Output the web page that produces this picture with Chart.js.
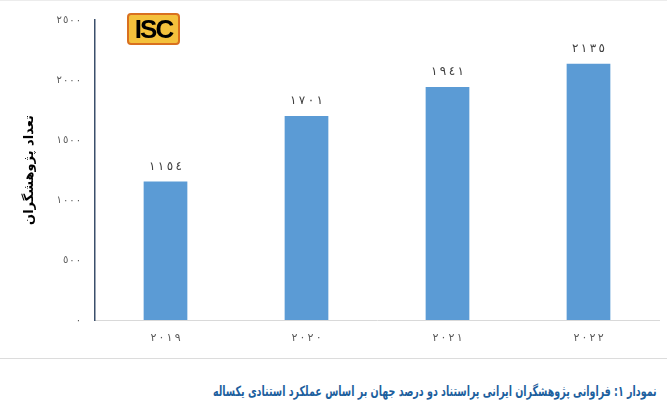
<!DOCTYPE html>
<html>
<head>
<meta charset="utf-8">
<script src="https://cdn.jsdelivr.net/npm/chart.js@4"></script>
<style>
  html, body { margin: 0; padding: 0; background: #fff; }
  body { width: 667px; height: 405px; position: relative; overflow: hidden; font-family: "DejaVu Sans", sans-serif; }
  #wrap { position: absolute; left: 0; top: 0; width: 667px; height: 350px; }
  .topline { position: absolute; left: 0; top: 0; width: 667px; height: 1px; background: #ececec; }
  .sep { position: absolute; left: 0; top: 358px; width: 667px; height: 1px; background: #dcdcdc; }
  .logo { position: absolute; left: 127px; top: 13px; width: 53px; height: 32px; background: #f4c13c; border: 2px solid #d9701f; border-radius: 4px; box-sizing: border-box;
          font: bold 26px "Liberation Sans", Arial, sans-serif; letter-spacing: -2px; color: #000; text-align: center; line-height: 29px; }
  .caption { position: absolute; right: 10px; top: 383px; direction: rtl; color: #1d5f9e; font: bold 14px "DejaVu Sans Condensed", "DejaVu Sans", sans-serif; white-space: nowrap; transform-origin: right center; }
</style>
</head>
<body>
<div class="topline"></div>
<div id="wrap"><canvas id="chart"></canvas></div>
<div class="logo">ISC</div>
<div class="sep"></div>
<div class="caption" id="caption">نمودار ۱: فراوانی پژوهشگران ایرانی پراستناد دو درصد جهان بر اساس عملکرد استنادی یکساله</div>
<script>
const years = ['2019', '2020', '2021', '2022'];
const researchers = [1154, 1701, 1941, 2135];
const yTicks = [0, 500, 1000, 1500, 2000, 2500];
const yTitle = 'تعداد پژوهشگران';

// Arabic-Indic digits, forced left-to-right, with a little spacing between them
function toArabicDigits(v, gap) {
    const s = String(v).replace(/[0-9]/g, d => '٠١٢٣٤٥٦٧٨٩'[d]);
    return '\u202D' + s.split('').join(gap) + '\u202C';
}

const cap = document.getElementById('caption');
cap.style.transform = 'scaleX(' + (444 / cap.offsetWidth) + ')';

const valueLabels = {
    id: 'valueLabels',
    afterDatasetsDraw(chart) {
        const ctx = chart.ctx;
        const meta = chart.getDatasetMeta(0);
        ctx.save();
        ctx.font = '12px "DejaVu Sans"';
        ctx.fillStyle = '#404040';
        ctx.textAlign = 'center';
        ctx.textBaseline = 'bottom';
        meta.data.forEach((bar, i) => {
            ctx.fillText(toArabicDigits(researchers[i], '\u2009'), bar.x, bar.y - 9);
        });
        ctx.restore();
    }
};

new Chart(document.getElementById('chart'), {
    type: 'bar',
    data: { labels: years, datasets: [{ data: researchers, backgroundColor: '#5b9bd5', borderWidth: 0, barPercentage: 0.31, categoryPercentage: 1 }] },
    options: {
        responsive: true, maintainAspectRatio: false, animation: false,
        layout: { padding: { left: 22, right: 8, top: 17, bottom: 0 } },
        plugins: { legend: { display: false }, tooltip: { enabled: false } },
        scales: {
            x: {
                grid: { display: false, drawTicks: false },
                border: { color: '#d9d9d9', width: 1 },
                ticks: { color: '#595959', font: { family: 'DejaVu Sans', size: 11 }, padding: 12,
                         callback: (v, i) => toArabicDigits(years[i], '\u2009') },
                afterFit: s => { s.height = 30; }
            },
            y: {
                min: 0, max: 2500,
                afterBuildTicks: s => { s.ticks = yTicks.map(v => ({ value: v })); },
                grid: { display: false, drawTicks: false },
                border: { color: '#3b4f6b', width: 1.5 },
                ticks: { color: '#595959', font: { family: 'DejaVu Sans', size: 10 }, padding: 14,
                         callback: v => toArabicDigits(v, '\u200A') },
                title: { display: true, text: yTitle, color: '#000', font: { family: 'DejaVu Sans', size: 13, weight: 'bold' }, padding: { top: 0, bottom: 0 } },
                afterFit: s => { s.width = 73; }
            }
        }
    },
    plugins: [valueLabels]
});
</script>
</body>
</html>
